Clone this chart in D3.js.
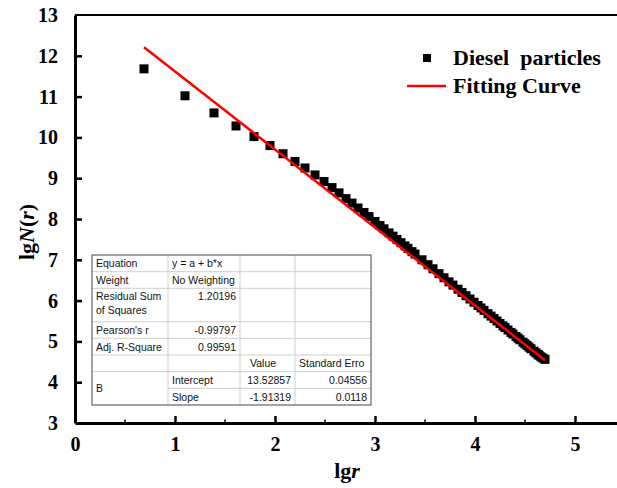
<!DOCTYPE html>
<html>
<head>
<meta charset="utf-8">
<script src="https://cdn.jsdelivr.net/npm/d3@7"></script>
<style>
  body { margin: 0; background: #fff; }
  svg { display: block; }
</style>
</head>
<body>
<svg id="chart"></svg>
<script>
// lg r and lg N(r) of the measured points
const lgR = [0.69, 1.10, 1.39, 1.61, 1.79, 1.95, 2.08, 2.20, 2.30, 2.40, 2.49, 2.57, 2.64, 2.71, 2.77,
  2.83, 2.89, 2.94, 3.00, 3.05, 3.09, 3.14, 3.18, 3.22, 3.26, 3.30, 3.33, 3.37, 3.40,
  3.47, 3.53, 3.58, 3.64, 3.69, 3.74, 3.78, 3.83, 3.87, 3.91, 3.95, 3.99, 4.03, 4.06, 4.09,
  4.13, 4.16, 4.19, 4.22, 4.25, 4.28, 4.30, 4.33, 4.36, 4.38, 4.41, 4.43, 4.45, 4.48, 4.50,
  4.52, 4.54, 4.56, 4.59, 4.61, 4.63, 4.64, 4.66, 4.68, 4.70];
const lgN = [11.68, 11.02, 10.60, 10.28, 10.02, 9.80, 9.60, 9.41, 9.25, 9.08, 8.92, 8.77, 8.64, 8.50, 8.39,
  8.27, 8.16, 8.06, 7.94, 7.84, 7.76, 7.66, 7.58, 7.50, 7.42, 7.34, 7.28, 7.20, 7.14,
  7.00, 6.88, 6.78, 6.66, 6.56, 6.46, 6.38, 6.28, 6.20, 6.12, 6.04, 5.96, 5.88, 5.82, 5.76,
  5.68, 5.62, 5.56, 5.50, 5.44, 5.38, 5.34, 5.28, 5.22, 5.18, 5.12, 5.08, 5.04, 4.98, 4.94,
  4.90, 4.86, 4.82, 4.76, 4.72, 4.68, 4.66, 4.62, 4.59, 4.56];

// fitted line end points
const fitX = [0.69, 4.70];
const fitY = [12.21, 4.54];

const xTicks = [0, 1, 2, 3, 4, 5];
const xMinor = [0.5, 1.5, 2.5, 3.5, 4.5];
const yTicks = [3, 4, 5, 6, 7, 8, 9, 10, 11, 12, 13];

const tableRows = [
  ["Equation", "y = a + b*x", "", ""],
  ["Weight", "No Weighting", "", ""],
  ["Residual Sum|of Squares", "1.20196", "", ""],
  ["Pearson's r", "-0.99797", "", ""],
  ["Adj. R-Square", "0.99591", "", ""],
  ["", "", "Value", "Standard Erro"],
  ["B", "Intercept", "13.52857", "0.04556"],
  ["", "Slope", "-1.91319", "0.0118"]
];

const width = 617, height = 488;
const margin = { top: 15, left: 75 };

const svg = d3.select("#chart").attr("width", width).attr("height", height);

const x = d3.scaleLinear().domain([0, 5.5]).range([margin.left, margin.left + 550]);
const y = d3.scaleLinear().domain([3, 13]).range([423, margin.top]);

const serif = "Liberation Serif, Times New Roman, serif";
const sans = "Liberation Sans, Arial, sans-serif";

// frame (top line) and axes
svg.append("line")
  .attr("x1", x(0)).attr("x2", width)
  .attr("y1", y(13)).attr("y2", y(13))
  .attr("stroke", "#000").attr("stroke-width", 2);

const xAxis = svg.append("g").attr("transform", `translate(0,${y(3)})`)
  .attr("font-family", serif)
  .call(d3.axisBottom(x).tickValues(xTicks).tickFormat(d3.format("d"))
    .tickSizeInner(-7).tickSizeOuter(0).tickPadding(14));
xAxis.select(".domain").attr("stroke-width", 3);
xAxis.selectAll(".tick line").attr("stroke-width", 2.5);
xAxis.selectAll("text")
  .style("font-family", serif).style("font-size", "20px").style("font-weight", "bold");

svg.append("g").selectAll("line")
  .data(xMinor).join("line")
  .attr("x1", d => x(d)).attr("x2", d => x(d))
  .attr("y1", y(3)).attr("y2", y(3) - 3.5)
  .attr("stroke", "#000").attr("stroke-width", 1.5);

const yAxis = svg.append("g").attr("transform", `translate(${x(0)},0)`)
  .call(d3.axisLeft(y).tickValues(yTicks).tickFormat(d3.format("d"))
    .tickSizeInner(-7).tickSizeOuter(0).tickPadding(17));
yAxis.attr("font-family", serif);
yAxis.select(".domain").attr("stroke-width", 3);
yAxis.selectAll(".tick line").attr("stroke-width", 2.5);
yAxis.selectAll(".tick").filter(d => d === 3 || d === 13).select("line").remove();
yAxis.selectAll("text")
  .style("font-family", serif).style("font-size", "20px").style("font-weight", "bold");

// axis titles
const xt = svg.append("text")
  .attr("x", 347).attr("y", 478)
  .attr("text-anchor", "middle")
  .style("font-family", serif).style("font-size", "22px").style("font-weight", "bold");
xt.append("tspan").text("lg");
xt.append("tspan").style("font-style", "italic").text("r");

const yt = svg.append("text")
  .attr("transform", "translate(34,232) rotate(-90)")
  .attr("text-anchor", "middle")
  .style("font-family", serif).style("font-size", "22px").style("font-weight", "bold");
yt.append("tspan").text("lg");
yt.append("tspan").style("font-style", "italic").text("N");
yt.append("tspan").text("(");
yt.append("tspan").style("font-style", "italic").text("r");
yt.append("tspan").text(")");

// table
const colX = [92, 168, 240, 295, 371];
const rowY = [255, 271.7, 288.3, 321.7, 338.3, 355, 371.7, 388.3, 405];
const tbl = svg.append("g").style("font-family", sans).style("font-size", "10.5px");
tbl.append("rect")
  .attr("x", colX[0]).attr("y", rowY[0])
  .attr("width", colX[4] - colX[0]).attr("height", rowY[8] - rowY[0])
  .attr("fill", "#fff");

rowY.slice(1, 8).forEach((ry, i) => {
  tbl.append("line")
    .attr("x1", i === 6 ? colX[1] : colX[0]).attr("x2", colX[4])
    .attr("y1", ry).attr("y2", ry)
    .attr("stroke", "#cfcfcf").attr("stroke-width", 1);
});
colX.slice(1, 4).forEach(cx => {
  tbl.append("line")
    .attr("x1", cx).attr("x2", cx)
    .attr("y1", rowY[0]).attr("y2", rowY[8])
    .attr("stroke", "#cfcfcf").attr("stroke-width", 1);
});
tbl.append("rect")
  .attr("x", colX[0]).attr("y", rowY[0])
  .attr("width", colX[4] - colX[0]).attr("height", rowY[8] - rowY[0])
  .attr("fill", "none").attr("stroke", "#444").attr("stroke-width", 1);

tableRows.forEach((row, r) => {
  const top = rowY[r], mid = (rowY[r] + rowY[r + 1]) / 2;
  row.forEach((cell, c) => {
    if (!cell) return;
    const numeric = /^-?\d/.test(cell);
    const rightAlign = numeric && c > 0;
    const t = tbl.append("text")
      .attr("fill", "#111")
      .attr("text-anchor", rightAlign ? "end" : "start");
    let tx = rightAlign ? colX[c + 1] - 4 : colX[c] + 4;
    if (cell === "Value") tx = colX[c] + 10;
    if (cell.includes("|")) {
      cell.split("|").forEach((part, k) => {
        t.append("tspan").attr("x", tx).attr("y", top + 12 + k * 14).text(part);
      });
    } else if (cell === "B") {
      t.attr("x", tx).attr("y", rowY[7] + 4).text(cell);
    } else {
      t.attr("x", tx).attr("y", r === 2 ? top + 12 : mid + 4).text(cell);
    }
  });
});

// data points
const sq = 9;
svg.append("g").selectAll("rect")
  .data(d3.zip(lgR, lgN)).join("rect")
  .attr("x", d => x(d[0]) - sq / 2)
  .attr("y", d => y(d[1]) - sq / 2)
  .attr("width", sq).attr("height", sq)
  .attr("fill", "#000");

// fitting curve
svg.append("path")
  .datum(d3.zip(fitX, fitY))
  .attr("fill", "none")
  .attr("stroke", "#ff0000")
  .attr("stroke-width", 2.5)
  .attr("d", d3.line().x(d => x(d[0])).y(d => y(d[1])));

// legend
const lg = svg.append("g").style("font-family", serif).style("font-size", "22px").style("font-weight", "bold");
lg.append("rect").attr("x", 423).attr("y", 54).attr("width", 8).attr("height", 8).attr("fill", "#000");
lg.append("text").attr("x", 453).attr("y", 65).attr("xml:space", "preserve").text("Diesel  particles");
lg.append("line").attr("x1", 407).attr("x2", 446).attr("y1", 86).attr("y2", 86)
  .attr("stroke", "#ff0000").attr("stroke-width", 2.5);
lg.append("text").attr("x", 453).attr("y", 93).text("Fitting Curve");
</script>
</body>
</html>
